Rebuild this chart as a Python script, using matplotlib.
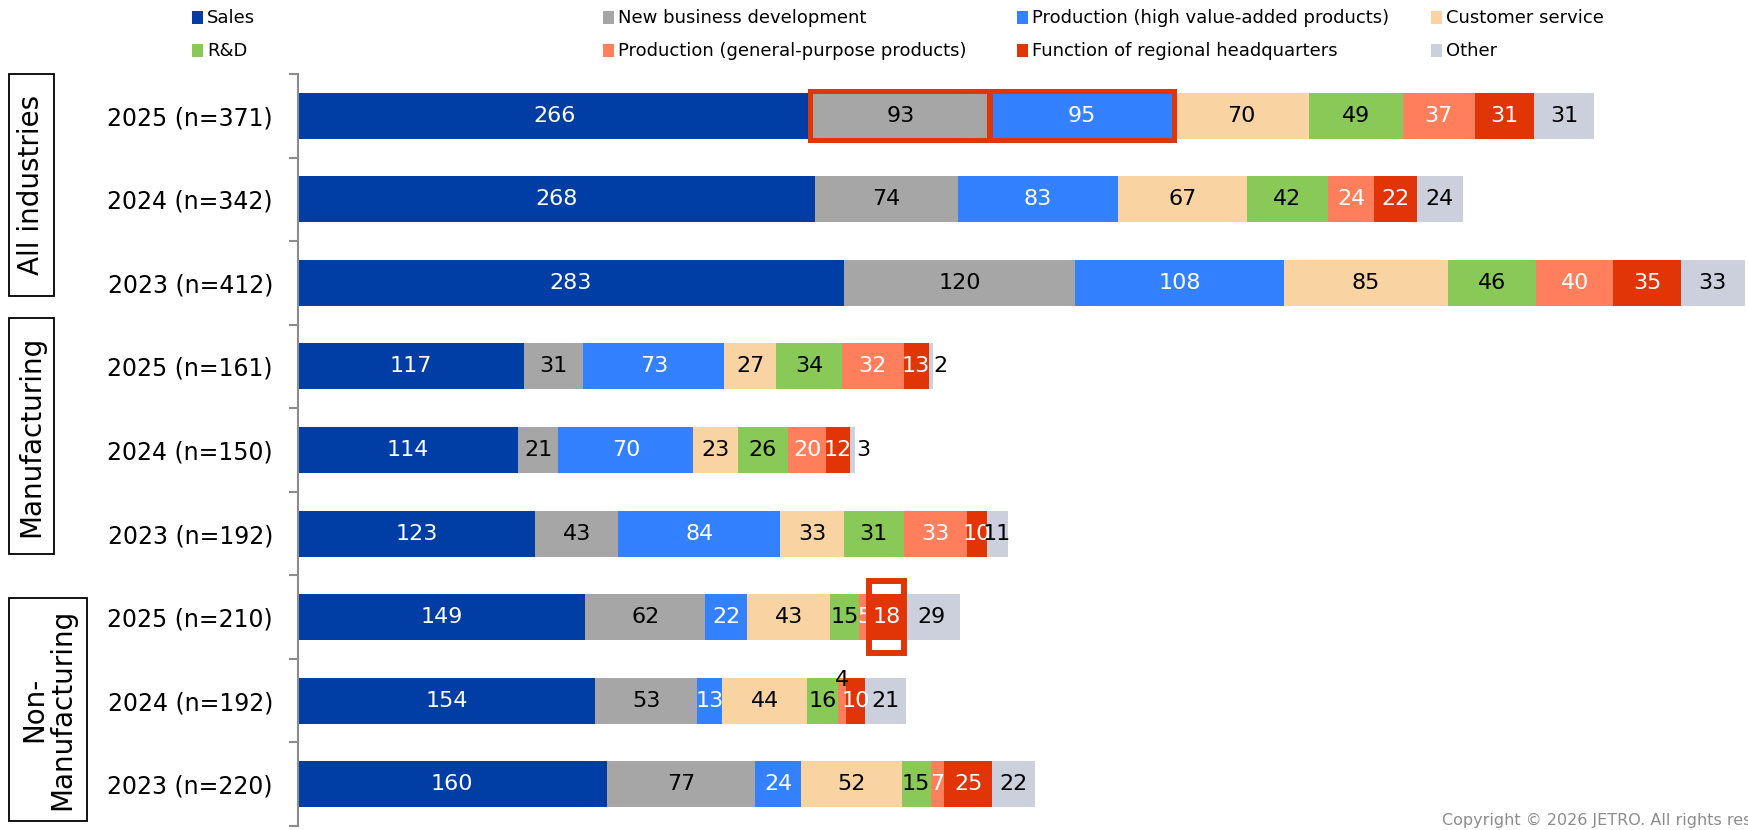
import numpy as np
import matplotlib.pyplot as plt
from matplotlib.patches import Rectangle

# Stacked horizontal bars: functions of overseas bases, by industry and year
series = ["Sales", "New business development", "Production (high value-added products)",
          "Customer service", "R&D", "Production (general-purpose products)",
          "Function of regional headquarters", "Other"]
colors = ["#003da5", "#a6a6a6", "#3381ff", "#f9d4a2", "#88c957", "#ff7f5c", "#e13508", "#cbd0dc"]
text_colors = ["white", "black", "white", "black", "black", "white", "white", "black"]

row_labels = ["2025 (n=371)", "2024 (n=342)", "2023 (n=412)",
              "2025 (n=161)", "2024 (n=150)", "2023 (n=192)",
              "2025 (n=210)", "2024 (n=192)", "2023 (n=220)"]
groups = ["All industries", "Manufacturing", "Non-\nManufacturing"]

sales = [266, 268, 283, 117, 114, 123, 149, 154, 160]
new_business = [93, 74, 120, 31, 21, 43, 62, 53, 77]
prod_high = [95, 83, 108, 73, 70, 84, 22, 13, 24]
customer = [70, 67, 85, 27, 23, 33, 43, 44, 52]
rnd = [49, 42, 46, 34, 26, 31, 15, 16, 15]
prod_general = [37, 24, 40, 32, 20, 33, 5, 4, 7]
regional_hq = [31, 22, 35, 13, 12, 10, 18, 10, 25]
other = [31, 24, 33, 2, 3, 11, 29, 21, 22]

values = np.array([sales, new_business, prod_high, customer, rnd,
                   prod_general, regional_hq, other])

W, H = 1749, 830
fig = plt.figure(figsize=(W / 100, H / 100), dpi=100)
ax = fig.add_axes([298 / W, 4 / H, (W - 298) / W, 752 / H])

y = np.arange(len(row_labels))
bar_h = 0.55
left = np.zeros(len(row_labels))
for i, name in enumerate(series):
    ax.barh(y, values[i], left=left, height=bar_h, color=colors[i], label=name)
    for r in range(len(row_labels)):
        v = values[i][r]
        cx = left[r] + v / 2
        if v <= 3 and i == len(series) - 1:
            # tiny trailing segment: put the number just past the bar end
            ax.text(left[r] + v + 0.5, r, str(v), ha="left", va="center",
                    fontsize=16, color="black")
        elif v == 4:
            ax.text(cx, r - 0.25, str(v), ha="center", va="center",
                    fontsize=16, color="black")
        else:
            ax.text(cx, r, str(v), ha="center", va="center",
                    fontsize=16, color=text_colors[i])
    left += values[i]

# highlight boxes
hl = "#e13508"
start = values[0][0]
for k in (1, 2):
    end = start + values[k][0]
    ax.add_patch(Rectangle((start - 0.7, -0.293), end - start + 0.7, 0.586,
                           fill=False, edgecolor=hl, linewidth=3.6, zorder=5))
    start = end
s18 = values[:6, 6].sum()
ax.add_patch(Rectangle((s18, 6 - 0.43), values[6][6], 0.86,
                       fill=False, edgecolor=hl, linewidth=4.3, zorder=5))

ax.set_xlim(0, 752.3)
ax.set_ylim(8.5, -0.5)
ax.set_yticks(y)
ax.set_yticklabels(row_labels, fontsize=17)
ax.set_yticks(np.arange(-0.5, 9, 1), minor=True)
ax.tick_params(axis="y", which="major", length=0, pad=18)
ax.tick_params(axis="y", which="minor", length=6.5, width=1.5, color="#8c8c8c")
ax.set_xticks([])
for side in ("top", "right", "bottom"):
    ax.spines[side].set_visible(False)
ax.spines["left"].set_color("#8c8c8c")
ax.spines["left"].set_linewidth(1.5)


def px(x0, y0):
    return x0 / W, 1 - y0 / H


# group boxes on the left
boxes = [(9, 74, 54, 296), (9, 318, 54, 554), (9, 598, 87, 821)]
for (x0, y0, x1, y1), g in zip(boxes, groups):
    fx, fy = px(x0, y1)
    fig.patches.append(Rectangle((fx, fy), (x1 - x0) / W, (y1 - y0) / H,
                                 transform=fig.transFigure, fill=False,
                                 edgecolor="black", linewidth=1.3))
    cx, cy = px((x0 + x1) / 2, (y0 + y1) / 2)
    fig.text(cx, cy, g, rotation=90, ha="center", va="center",
             fontsize=20, linespacing=1.0, multialignment="center")

# legend laid out in a 4 x 2 grid
col_x = [192, 603, 1017, 1431]
row_y = [18, 51]
for n, name in enumerate(series):
    cx0 = col_x[n % 4]
    cy0 = row_y[n // 4]
    fx, fy = px(cx0, cy0 + 6)
    fig.patches.append(Rectangle((fx, fy), 11 / W, 13 / H, transform=fig.transFigure,
                                 facecolor=colors[n], edgecolor="none"))
    tx, ty = px(cx0 + 15, cy0)
    fig.text(tx, ty, name, ha="left", va="center", fontsize=13)

fig.text(1442 / W, 1 - 820 / H, "Copyright \u00a9 2026 JETRO. All rights res",
         ha="left", va="center", fontsize=11.5, color="#8c8c8c")

fig.savefig("out.png", dpi=100)
